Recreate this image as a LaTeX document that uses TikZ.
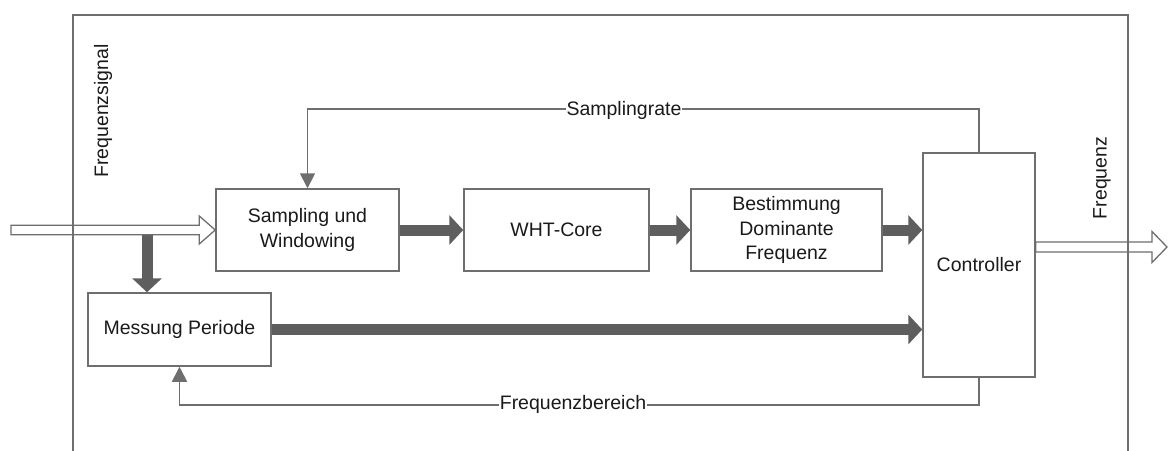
\documentclass[tikz,border=0pt]{standalone}
\usepackage{fontspec}
\setmainfont{Liberation Sans}
\usetikzlibrary{arrows.meta,calc}
\definecolor{boxgray}{HTML}{6E6E6E}
\definecolor{arrgray}{HTML}{5E5E5E}
\definecolor{txt}{HTML}{1A1A1A}
\begin{document}
\begin{tikzpicture}[x=1pt,y=-1pt,
  every node/.style={font=\fontsize{19.5}{24.5}\selectfont, text=txt},
  blockbox/.style={draw=boxgray, line width=1.5pt, fill=white, align=center, inner sep=0pt},
  thickarr/.style={draw=arrgray, line width=11pt, -{Triangle[length=14pt,width=29pt]}},
  fbline/.style={draw=boxgray, line width=1.8pt, -{Triangle[length=15pt,width=15pt]}},
  fbnoarr/.style={draw=boxgray, line width=1.8pt},
  hollow/.style={draw=boxgray, line width=1.3pt, fill=white, line join=miter},
  lbl/.style={fill=white, inner sep=1pt},
  framestyle/.style={draw=boxgray, line width=1.5pt}
]
\useasboundingbox (0,0) rectangle (1169,450);
\clip (0,0) rectangle (1169,450);
\fill[white] (0,0) rectangle (1169,450);

% blocks
\node[blockbox, minimum width=183pt, minimum height=82pt] (samp) at (307.5,230) {Sampling und\\Windowing};
\node[blockbox, minimum width=185pt, minimum height=82pt] (wht) at (556.5,230) {WHT-Core};
\node[blockbox, minimum width=191pt, minimum height=82pt] (best) at (786.5,230) {Bestimmung\\Dominante\\Frequenz};
\node[blockbox, minimum width=112pt, minimum height=224pt] (ctrl) at (979,265) {Controller};
\node[blockbox, minimum width=183pt, minimum height=73pt] (mess) at (179.5,329.5) {Messung Periode};

% coordinates
\coordinate (inS) at (11,230);
\coordinate (split) at (147,230);
\coordinate (outS) at ($(ctrl.east)+(0,-18)$);
\coordinate (outE) at (1167,247);

% thick arrows
\draw[thickarr] (samp.east) -- (wht.west);
\draw[thickarr] (wht.east) -- (best.west);
\draw[thickarr] (best.east) -- (best.east -| ctrl.west);
\draw[thickarr] (mess.east) -- (mess.east -| ctrl.west);
\draw[thickarr] (split) -- (split |- mess.north);

% hollow input / output arrows
\draw[hollow] ($(inS)+(0,-4.7)$) -- ($(samp.west)+(-16,-4.7)$) -- ($(samp.west)+(-16,-14)$) -- (samp.west)
  -- ($(samp.west)+(-16,14)$) -- ($(samp.west)+(-16,4.7)$) -- ($(inS)+(0,4.7)$) -- cycle;
\draw[hollow] ($(outS)+(0,-5)$) -- ($(outE)+(-15,-5)$) -- ($(outE)+(-15,-15.5)$) -- (outE)
  -- ($(outE)+(-15,15.5)$) -- ($(outE)+(-15,5)$) -- ($(outS)+(0,5)$) -- cycle;

% feedback lines
\coordinate (srTop) at ($(samp.north)+(0,-79)$);
\draw[fbline] (ctrl.north) |- (srTop) -- (samp.north);
\node[lbl] (srl) at (624,110) {Samplingrate};
\coordinate (fbBot) at ($(mess.south)+(0,38)$);
\draw[fbline] (ctrl.south) |- (fbBot) -- (mess.south);
\node[lbl] (fbl) at (573,404) {Frequenzbereich};

% frame
\draw[framestyle] (73,460) -- (73,15) -- (1128,15) -- (1128,460);

% rotated labels
\node[rotate=90] (fsig) at (103,111) {Frequenzsignal};
\node[rotate=90] (freq) at (1102,178) {Frequenz};
\end{tikzpicture}
\end{document}
